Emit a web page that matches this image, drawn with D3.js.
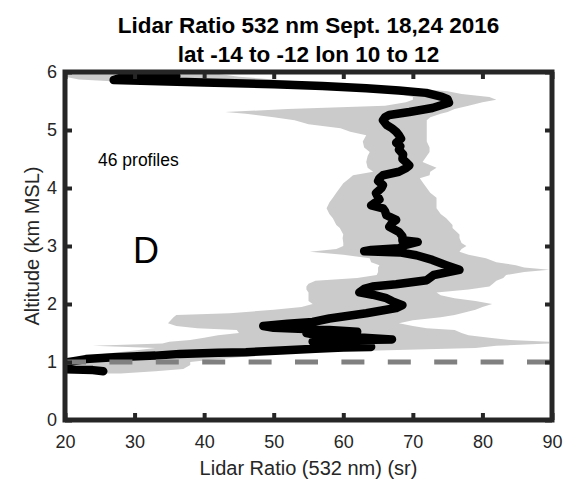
<!DOCTYPE html>
<html>
<head>
<meta charset="utf-8">
<script src="https://cdn.jsdelivr.net/npm/d3@7"></script>
<style>
  html, body { margin: 0; padding: 0; background: #fff; }
  svg { display: block; }
  text { font-family: "Liberation Sans", Arial, Helvetica, sans-serif; }
</style>
</head>
<body>
<div id="chart"></div>
<script>
// ---- Data ----
const titleLines = ["Lidar Ratio 532 nm Sept. 18,24 2016", "lat -14 to -12 lon 10 to 12"];
const xLabel = "Lidar Ratio (532 nm) (sr)";
const yLabel = "Altitude (km MSL)";
const xTicks = [20, 30, 40, 50, 60, 70, 80, 90];
const yTicks = [0, 1, 2, 3, 4, 5, 6];
const refAltitude = 1.0;

// mean lidar ratio profile
const meanAlt = [0.84,0.86,0.88,0.93,0.98,1.02,1.05,1.08,1.11,1.14,1.16,1.17,1.20,1.23,1.25,1.26,1.28,1.31,1.35,1.38,1.39,1.42,1.47,1.50,1.52,1.55,1.59,1.62,1.66,1.69,1.75,1.84,1.93,1.98,2.05,2.10,2.16,2.20,2.26,2.30,2.34,2.41,2.50,2.59,2.67,2.76,2.84,2.89,2.91,2.93,2.96,3.02,3.07,3.10,3.17,3.24,3.33,3.40,3.45,3.53,3.60,3.65,3.70,3.80,3.91,4.00,4.05,4.12,4.17,4.22,4.28,4.34,4.39,4.45,4.50,4.58,4.66,4.72,4.78,4.85,4.91,4.97,5.03,5.09,5.17,5.22,5.26,5.31,5.38,5.47,5.53,5.57,5.64,5.68,5.72,5.76,5.79,5.82,5.86,5.90,5.93];
const meanVal = [25.5,24,19,18,19.5,21.5,23,27,33,36.5,42,46,51,56,60,64,63,58,55.6,62,67,63,56,54.7,62,58,50,48.5,52,55.6,58,63.3,67.6,68.5,67,66.2,64.2,62.3,63,64.2,67.6,72,73,76.7,74.8,72.8,70.5,68.1,63,64,68,69,70.7,68.5,68.5,68,66.6,67,67.6,66.2,66,65.7,64,65.2,64.7,65.5,65.7,65,65.2,65.7,68,69,69.5,69,68.5,68.6,68,68.2,67.6,68.3,68,67.6,67,66.2,65.7,66,66.6,69.5,72.8,75.2,75,74.2,71.9,68,63.3,57,50,40,27,28,36];

// spread (grey band) of the profiles
const bandAlt = [0.80,0.84,0.88,0.95,1.00,1.04,1.08,1.12,1.16,1.20,1.24,1.28,1.32,1.35,1.38,1.42,1.46,1.50,1.55,1.58,1.62,1.67,1.72,1.77,1.81,1.84,1.90,1.95,2.00,2.05,2.10,2.15,2.20,2.25,2.30,2.35,2.40,2.45,2.50,2.55,2.59,2.63,2.67,2.72,2.79,2.85,2.90,2.95,3.00,3.05,3.14,3.20,3.31,3.36,3.48,3.55,3.65,3.75,3.83,3.92,4.00,4.08,4.17,4.22,4.28,4.35,4.45,4.55,4.62,4.70,4.80,4.91,4.97,5.03,5.10,5.17,5.22,5.28,5.31,5.36,5.42,5.48,5.52,5.57,5.62,5.67,5.72,5.77,5.82,5.87,5.92,6.00];
const bandLo = [25,21,19,19,19,20,22,24,27,30,33,24,34,35,38,40,42,45,44.7,39,36,34.8,35.2,35.6,36,43.7,50,54,55.6,55,55,55,55,54.7,54.7,55,56,62,64.8,65,65,65,65.2,64,63.8,60,55.2,59,60,60,59.9,60,59.5,59,58.5,58,57.6,58,58.5,59,59.5,60,60.9,61.4,64.3,63.5,63.3,63.5,63.8,63,62.8,63.3,61,59.6,55,53,50,46,43,52,66,69,70,70,68,64,58,45,30,22,20,20];
const bandHi = [28,33,37,38,38,41,45,48,52,65,79,82,89.6,89.6,84,81,78,77,76,72,70,68,70,74,76,77,79,80,81.4,79,76,74,73.4,78,81,81.5,82,83,83.4,86,89.6,86,84.8,82,80.5,78,76.7,77,77.7,77,76.7,76.7,75.7,75.7,74.8,74,73.4,73.4,73.4,72.5,72,71.5,71,72.4,72.5,73.4,71.4,72,72.4,72.4,72,72,72,72,72,72,72.5,74,75,76,78,80,82,81,77,75,70,62,56,50,45,40];

const profileNote = "46 profiles";
const panelLetter = "D";

// ---- Layout ----
const W = 570, H = 482;
const svg = d3.select("#chart").append("svg").attr("width", W).attr("height", H);
svg.append("rect").attr("width", W).attr("height", H).attr("fill", "#fff");

const x = d3.scaleLinear().domain([20, 90]).range([65, 552]);
const y = d3.scaleLinear().domain([0, 6]).range([420, 72]);
const axisColor = "#262626";

svg.append("defs").append("clipPath").attr("id", "plotclip")
  .append("rect").attr("x", x(20)).attr("y", y(6)).attr("width", x(90) - x(20)).attr("height", y(0) - y(6));

const plot = svg.append("g").attr("clip-path", "url(#plotclip)");

const band = bandAlt.map((a, i) => ({ a, lo: bandLo[i], hi: bandHi[i] }));
plot.append("path")
  .datum(band)
  .attr("fill", "#cbcbcb")
  .attr("d", d3.area().y(d => y(d.a)).x0(d => x(d.lo)).x1(d => x(d.hi)));

const mean = meanAlt.map((a, i) => ({ a, v: meanVal[i] }));
plot.append("path")
  .datum(mean)
  .attr("fill", "none")
  .attr("stroke", "#000")
  .attr("stroke-width", 8.5)
  .attr("stroke-linejoin", "round")
  .attr("stroke-linecap", "round")
  .attr("d", d3.line().x(d => x(d.v)).y(d => y(d.a)));

plot.append("line")
  .attr("x1", x(20) - 2).attr("x2", x(90))
  .attr("y1", y(refAltitude)).attr("y2", y(refAltitude))
  .attr("stroke", "#808080").attr("stroke-width", 5)
  .attr("stroke-dasharray", "23 23.4");

// ---- Axes ----
function styleAxis(g) {
  g.select(".domain").remove();
  g.selectAll(".tick line").attr("stroke", axisColor).attr("stroke-width", 4);
  g.selectAll(".tick text").attr("fill", axisColor).style("font-size", "18px")
    .style("font-family", "'Liberation Sans', Arial, sans-serif");
}
svg.append("g").attr("transform", `translate(0,${y(0)})`)
  .call(d3.axisBottom(x).tickValues(xTicks).tickSizeInner(-7).tickSizeOuter(0).tickPadding(15).tickFormat(d3.format("d")))
  .call(styleAxis);
svg.append("g").attr("transform", `translate(0,${y(6)})`)
  .call(d3.axisTop(x).tickValues(xTicks).tickSizeInner(-7).tickSizeOuter(0).tickFormat(""))
  .call(styleAxis);
svg.append("g").attr("transform", `translate(${x(20)},0)`)
  .call(d3.axisLeft(y).tickValues(yTicks).tickSizeInner(-7).tickSizeOuter(0).tickPadding(8).tickFormat(d3.format("d")))
  .call(styleAxis);
svg.append("g").attr("transform", `translate(${x(90)},0)`)
  .call(d3.axisRight(y).tickValues(yTicks).tickSizeInner(-7).tickSizeOuter(0).tickFormat(""))
  .call(styleAxis);

// frame
svg.append("rect")
  .attr("x", x(20)).attr("y", y(6))
  .attr("width", x(90) - x(20)).attr("height", y(0) - y(6))
  .attr("fill", "none").attr("stroke", axisColor).attr("stroke-width", 5);

// ---- Text ----
const cx = (x(20) + x(90)) / 2;
svg.append("text").attr("x", cx).attr("y", 33).attr("text-anchor", "middle")
  .style("font-size", "22.5px").style("font-weight", "bold").attr("fill", "#000").text(titleLines[0]);
svg.append("text").attr("x", cx).attr("y", 62).attr("text-anchor", "middle")
  .style("font-size", "22.5px").style("font-weight", "bold").attr("fill", "#000").text(titleLines[1]);

svg.append("text").attr("x", cx).attr("y", 475).attr("text-anchor", "middle")
  .style("font-size", "20px").attr("fill", axisColor).text(xLabel);
svg.append("text")
  .attr("transform", `translate(39,${(y(0) + y(6)) / 2}) rotate(-90)`)
  .attr("text-anchor", "middle")
  .style("font-size", "20px").attr("fill", axisColor).text(yLabel);

svg.append("text").attr("x", 98).attr("y", 166)
  .style("font-size", "17.5px").attr("fill", "#000").text(profileNote);
svg.append("text").attr("x", 133).attr("y", 263)
  .style("font-size", "36px").attr("fill", "#000").text(panelLetter);
</script>
</body>
</html>
